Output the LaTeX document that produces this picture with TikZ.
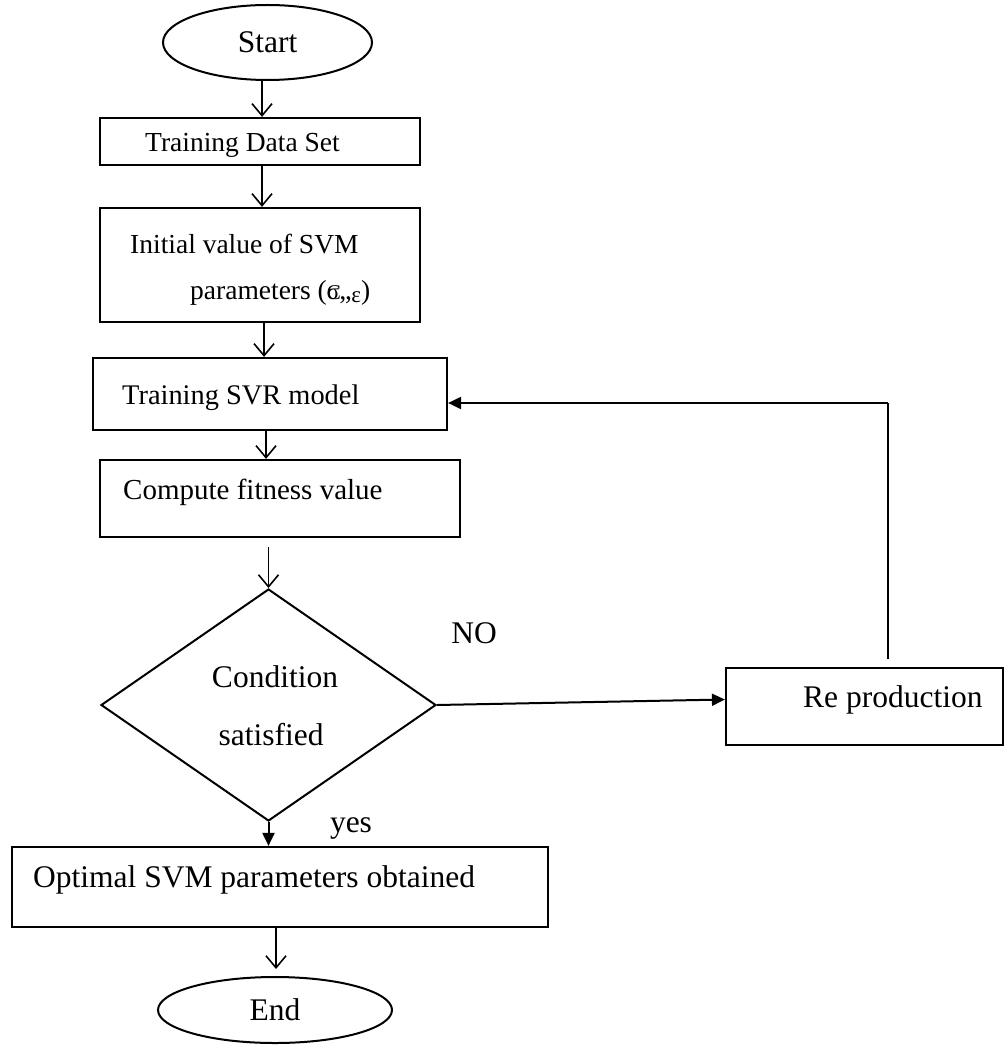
\documentclass[tikz,border=0pt]{standalone}
\usepackage{fontspec}
\setmainfont{Liberation Serif}
\usetikzlibrary{arrows.meta,shapes.geometric}
\begin{document}
\begin{tikzpicture}[x=1pt,y=-1pt,
  box/.style={draw,line width=2.2pt,rectangle,inner sep=0pt},
  oval/.style={draw,line width=2pt,ellipse,inner sep=0pt,font=\fontsize{31.5}{36}\selectfont},
  lbl/.style={inner sep=0pt,font=\fontsize{31.5}{36}\selectfont},
  flow/.style={line width=1.6pt,-{Straight Barb[length=12pt,width=20pt]}},
  solidarrow/.style={line width=2pt,-{Triangle[length=13pt,width=12pt]}},
]
\useasboundingbox (0,0) rectangle (1006,1048);

% terminals
\node[oval,minimum width=209pt,minimum height=75pt] (start) at (267.5,42.5) {Start};
\node[oval,minimum width=234pt,minimum height=66pt] (stop) at (275,1010) {End};

% process boxes
\node[box,minimum width=320pt,minimum height=47pt] (data) at (260,141.5) {};
\node[box,minimum width=320pt,minimum height=114pt] (init) at (260,265) {};
\node[box,minimum width=354pt,minimum height=72pt] (svr) at (270,394) {};
\node[box,minimum width=360pt,minimum height=77pt] (fit) at (280,498.5) {};
\node[box,minimum width=536pt,minimum height=80pt] (opt) at (280,887) {};
\node[box,minimum width=277pt,minimum height=77pt] (repro) at (864.5,706.5) {};

% decision
\node[draw,diamond,line width=2pt,inner sep=0pt,minimum width=335pt,minimum height=232pt] (cond) at (268.5,705) {};

% box texts
\node[inner sep=0pt,font=\fontsize{27.5}{32}\selectfont,anchor=base west] (tdata) at (145,152) {Training Data Set};
\node[inner sep=0pt,font=\fontsize{27.5}{32}\selectfont,anchor=base west] (tinit1) at (130,254) {Initial value of SVM};
\node[inner sep=0pt,font=\fontsize{27.5}{32}\selectfont,anchor=base west] (tinit2) at (190,299)
  {parameters (\makebox[0pt][l]{\fontsize{21}{24}\selectfont C}{\fontsize{23}{26}\selectfont σ},,\raisebox{-3pt}{\fontsize{23}{26}\selectfont ε})};
\node[inner sep=0pt,font=\fontsize{28.4}{32}\selectfont,anchor=base west] (tsvr) at (122,404) {Training SVR model};
\node[inner sep=0pt,font=\fontsize{29}{33}\selectfont,anchor=base west] (tfit) at (123,499) {Compute fitness value};
\node[lbl] (tcond1) at (275,677) {Condition};
\node[lbl] (tcond2) at (271,735) {satisfied};
\node[lbl,anchor=base west] (topt) at (33,887) {Optimal SVM parameters obtained};
\node[lbl,anchor=base west] (trepro) at (803,707) {Re production};
\node[lbl] (tno) at (474,633) {NO};
\node[lbl] (tyes) at (351,828) {yes};

% vertical guides for the connectors
\coordinate (xa) at (262,0);
\coordinate (xb) at (262,0);
\coordinate (xc) at (264,0);
\coordinate (xd) at (266,0);
\coordinate (xe) at (276,0);
\coordinate (fbtop) at (888,403);
\coordinate (fbstart) at (888,659);

% main flow
\draw[flow] (start.south -| xa) -- (data.north -| xa);
\draw[flow] (data.south -| xb) -- (init.north -| xb);
\draw[flow] (init.south -| xc) -- (svr.north -| xc);
\draw[flow] (svr.south -| xd) -- (fit.north -| xd);
\draw[flow] ([yshift=-9pt]fit.south -| cond.north) -- (cond.north);
\draw[solidarrow] (cond.south) -- (opt.north -| cond.south);
\draw[flow] (opt.south -| xe) -- ([yshift=7pt]stop.north -| xe);

% NO branch and loop back
\draw[solidarrow] (cond.east) -- ([yshift=7pt]repro.west);
\draw[line width=1.1pt] (fbstart) -- (fbtop);
\draw[solidarrow] (fbtop) -- (svr.east |- fbtop);
\end{tikzpicture}
\end{document}
